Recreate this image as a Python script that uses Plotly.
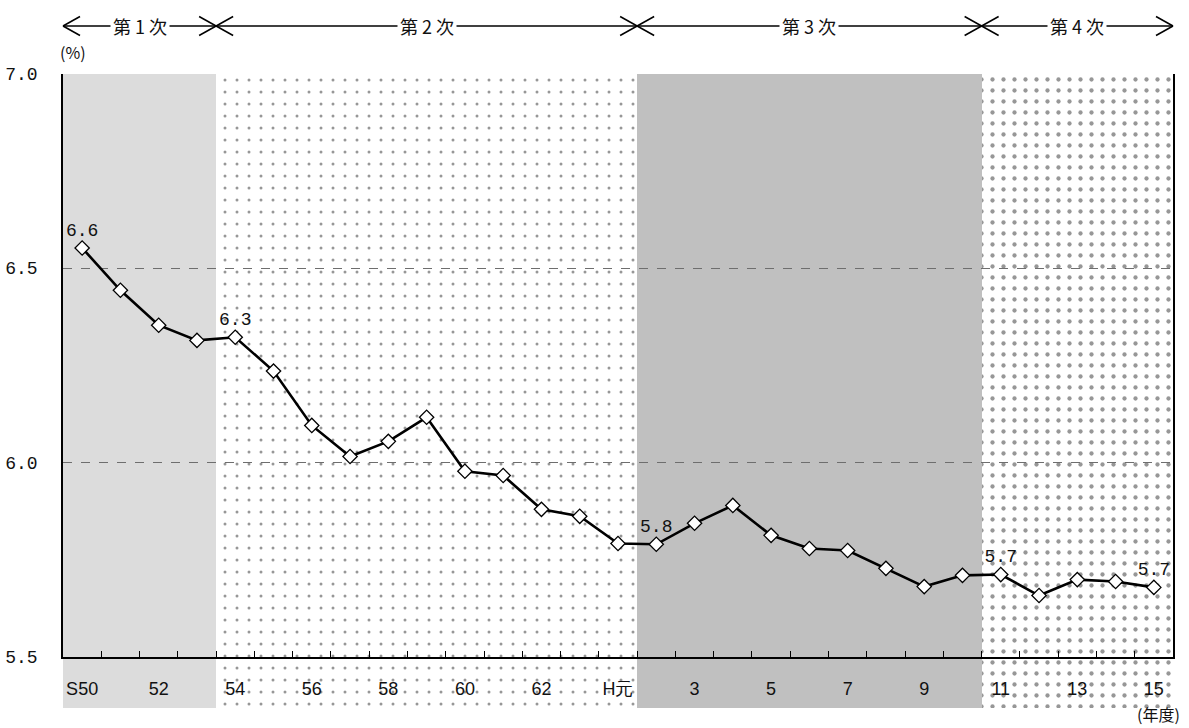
import plotly.graph_objects as go

# ---- data ----
categories = ["S50", "51", "52", "53", "54", "55", "56", "57", "58", "59", "60", "61", "62", "63",
              "H元", "2", "3", "4", "5", "6", "7", "8", "9", "10", "11", "12", "13", "14", "15"]
values = [6.552, 6.443, 6.353, 6.314, 6.322, 6.235, 6.095, 6.015, 6.054, 6.116, 5.977, 5.966, 5.879, 5.861,
          5.791, 5.789, 5.843, 5.889, 5.812, 5.778, 5.773, 5.727, 5.680, 5.709, 5.711, 5.657, 5.698, 5.693, 5.678]
label_idx = [0, 4, 15, 24, 28]
phase_names = ["第 1 次", "第 2 次", "第 3 次", "第 4 次"]
phase_start = [0, 4, 15, 24]
phase_end = [4, 15, 24, 29]
y_ticks = [5.5, 6.0, 6.5, 7.0]

# ---- styles ----
phase_styles = [
    dict(color="#dcdcdc"),
    dict(color="white", pattern=dict(shape=".", size=12, solidity=0.05, fgcolor="#303030", bgcolor="white")),
    dict(color="#c0c0c0"),
    dict(color="white", pattern=dict(shape=".", size=11, solidity=0.12, fgcolor="#303030", bgcolor="white")),
]
n = len(categories)
W, H = 1189, 728
ml, mr, mt, mb = 63, 16, 74, 20
pw, ph = W - ml - mr, H - mt - mb
axis_bottom_px = 656.5
data_dom0 = (H - mb - axis_bottom_px) / ph

fig = go.Figure()

# phase background regions (extend below the axis into the label band)
for s, e, st in zip(phase_start, phase_end, phase_styles):
    fig.add_trace(go.Bar(x=[(s + e) / 2], y=[1], base=[0], width=[e - s],
                         marker=dict(line=dict(width=0), **st),
                         xaxis="x", yaxis="y", hoverinfo="skip"))

text = [f"{v:.1f}" if i in label_idx else "" for i, v in enumerate(values)]
fig.add_trace(go.Scatter(
    x=categories, y=values, xaxis="x2", yaxis="y2",
    mode="lines+markers+text", text=text, textposition="top center",
    textfont=dict(family="Liberation Mono", size=18, color="#111"),
    line=dict(color="black", width=2.6),
    marker=dict(symbol="diamond", size=11, color="white", line=dict(color="black", width=1.3)),
    cliponaxis=False,
))

ticktext = [c if i % 2 == 0 else "" for i, c in enumerate(categories)]

fig.update_layout(
    width=W, height=H, margin=dict(l=ml, r=mr, t=mt, b=mb, autoexpand=False),
    paper_bgcolor="white", plot_bgcolor="rgba(0,0,0,0)", showlegend=False,
    bargap=0,
    xaxis=dict(domain=[0, 1], range=[0, n], visible=False, anchor="y", fixedrange=True),
    yaxis=dict(domain=[0, 1], range=[0, 1], visible=False, anchor="x", fixedrange=True),
    xaxis2=dict(domain=[0, 1], anchor="y2", type="category", range=[-0.5, n - 0.5],
                showline=True, linecolor="black", linewidth=2, automargin=False,
                ticks="inside", tickson="boundaries", ticklen=6, tickcolor="black", tickwidth=1,
                tickvals=categories, ticktext=ticktext, showgrid=False, tickangle=0,
                tickfont=dict(family="Liberation Sans", size=18, color="#111"),
                ticklabelstandoff=15),
    yaxis2=dict(domain=[data_dom0, 1], anchor="x2", range=[5.5, 7.0], automargin=False,
                tickvals=y_ticks, ticktext=[f"{v:.1f}" for v in y_ticks],
                showline=True, mirror=True, linecolor="black", linewidth=1.5,
                showgrid=True, gridcolor="#6e6e6e", griddash="dash", gridwidth=1,
                ticks="outside", ticklen=20, tickcolor="rgba(0,0,0,0)", zeroline=False,
                tickfont=dict(family="Liberation Mono", size=18, color="#111")),
)

# phase arrows on top
y_arrow = (H - mb - 26) / ph
dxp, dyp = 17 / pw, 9.5 / ph
shapes = []
annotations = []
for s, e, name in zip(phase_start, phase_end, phase_names):
    xs, xe = s / n, e / n
    ln = dict(type="line", xref="paper", yref="paper", line=dict(color="black", width=1.5))
    shapes.append(dict(ln, x0=xs, x1=xe, y0=y_arrow, y1=y_arrow))
    for sgn in (1, -1):
        shapes.append(dict(ln, x0=xs, x1=xs + dxp, y0=y_arrow, y1=y_arrow + sgn * dyp))
        shapes.append(dict(ln, x0=xe, x1=xe - dxp, y0=y_arrow, y1=y_arrow + sgn * dyp))
    annotations.append(dict(x=(xs + xe) / 2, y=y_arrow, xref="paper", yref="paper", text=name,
                            xanchor="center", yanchor="middle",
                            showarrow=False, bgcolor="white", borderpad=2,
                            font=dict(family="Noto Sans CJK JP", size=18, color="#111")))

annotations.append(dict(x=(73 - ml) / pw, y=(H - mb - 52) / ph, xref="paper", yref="paper",
                        text="(%)", showarrow=False, xanchor="center", yanchor="middle",
                        font=dict(family="Noto Sans CJK JP", size=16, color="#111")))
annotations.append(dict(x=(1158 - ml) / pw, y=(H - mb - 714) / ph, xref="paper", yref="paper",
                        text="(年度)", showarrow=False, xanchor="center", yanchor="middle",
                        borderpad=0,
                        font=dict(family="Noto Sans CJK JP", size=16, color="#111")))

fig.update_layout(shapes=shapes, annotations=annotations)
fig.write_html("out.html")
